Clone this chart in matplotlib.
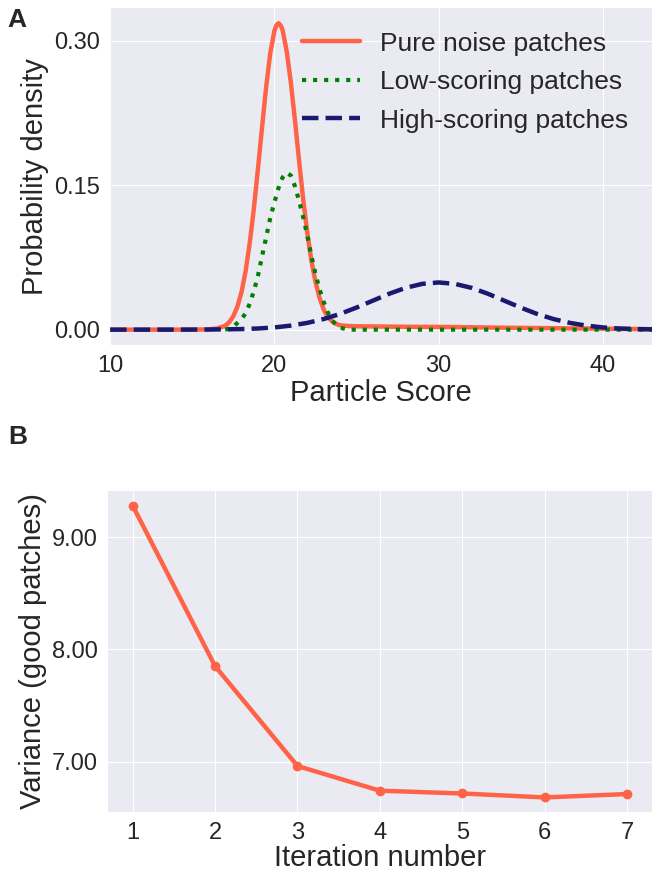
import matplotlib
matplotlib.use("Agg")
import matplotlib.pyplot as plt

# panel A: densities
noise_x = [10, 12, 14, 15, 16, 16.5, 17, 17.25, 17.5, 17.75, 18, 18.25, 18.5, 18.75,
           19, 19.25, 19.5, 19.75, 20, 20.125, 20.25, 20.375, 20.5, 20.75, 21,
           21.25, 21.5, 21.75, 22, 22.25, 22.5, 22.75, 23, 23.25, 23.5, 23.75,
           24, 24.5, 25, 28, 31, 34, 37, 40, 43]
noise_y = [0, 0, 0, 0, 0.0003, 0.0012, 0.004, 0.0077, 0.014, 0.024, 0.039, 0.061,
           0.090, 0.1255, 0.167, 0.210, 0.252, 0.287, 0.310, 0.316, 0.318, 0.316,
           0.311, 0.289, 0.257, 0.218, 0.176, 0.136, 0.101, 0.072, 0.050, 0.033,
           0.021, 0.013, 0.009, 0.006, 0.0045, 0.0038, 0.0035, 0.003, 0.0027,
           0.002, 0.0015, 0.001, 0.0005]

low_x = [17, 17.25, 17.5, 17.75, 18, 18.25, 18.5, 18.75, 19, 19.25, 19.5, 19.75,
         20, 20.25, 20.5, 20.75, 21, 21.25, 21.5, 21.75, 22, 22.25, 22.5, 22.75,
         23, 23.25, 23.5, 23.75, 24, 24.5, 30, 43]
low_y = [0, 0.001, 0.003, 0.007, 0.011, 0.017, 0.027, 0.040, 0.056, 0.076, 0.096,
         0.116, 0.132, 0.147, 0.158, 0.163, 0.160, 0.149, 0.134, 0.117, 0.098,
         0.077, 0.058, 0.042, 0.029, 0.018, 0.010, 0.005, 0.002, 0, 0, 0]

high_x = [10, 12, 14, 16, 17, 18, 19, 20, 21, 22, 23, 24, 25, 26, 27, 28, 29, 30,
          31, 32, 33, 34, 35, 36, 37, 38, 39, 40, 41, 42, 43]
high_y = [0, 0, 0.00002, 0.00012, 0.0003, 0.0006, 0.0012, 0.0023, 0.0042, 0.0070,
          0.0110, 0.0163, 0.0229, 0.0301, 0.0373, 0.0434, 0.0475, 0.049, 0.0475,
          0.0434, 0.0373, 0.0301, 0.0229, 0.0163, 0.0110, 0.0070, 0.0042, 0.0023,
          0.0012, 0.0006, 0.0003]

labels = ["Pure noise patches", "Low-scoring patches", "High-scoring patches"]

# panel B
iterations = [1, 2, 3, 4, 5, 6, 7]
variance = [9.28, 7.85, 6.96, 6.74, 6.715, 6.68, 6.71]

plt.style.use("seaborn-v0_8-darkgrid")
plt.rcParams["font.family"] = ["Liberation Sans", "DejaVu Sans"]
plt.rcParams["text.color"] = "#262626"
plt.rcParams["axes.labelcolor"] = "#262626"
plt.rcParams["xtick.color"] = "#262626"
plt.rcParams["ytick.color"] = "#262626"

fig = plt.figure(figsize=(6.52, 8.72), dpi=100)

# ---- panel A
ax1 = fig.add_axes([0.169, 0.6044, 0.831, 0.3865])
ax1.plot(noise_x, noise_y, color="tomato", lw=3.2, label=labels[0])
ax1.plot(low_x, low_y, color="green", lw=3, ls=":", label=labels[1])
ax1.plot(high_x, high_y, color="midnightblue", lw=3.2, ls="--", label=labels[2])
ax1.set_xlim(10, 43)
ax1.set_xticks([10, 20, 30, 40])
ax1.set_yticks([0.0, 0.15, 0.30])
ax1.set_yticklabels(["0.00", "0.15", "0.30"])
ax1.tick_params(labelsize=17, pad=7)
ax1.set_xlabel("Particle Score", fontsize=21, labelpad=2)
ax1.set_ylabel("Probability density", fontsize=21)
ax1.legend(loc="upper right", bbox_to_anchor=(1.0, 1.0), frameon=False,
           fontsize=19, handlelength=2.2, handletextpad=0.75, labelspacing=0.55)
fig.text(0.012, 0.977, "A", fontsize=19, fontweight="bold", va="center")

# ---- panel B
ax2 = fig.add_axes([0.1656, 0.0688, 0.834, 0.368])
ax2.plot(iterations, variance, color="tomato", lw=3.2, marker="o", markersize=6)
ax2.set_xticks(iterations)
ax2.set_yticks([7.0, 8.0, 9.0])
ax2.set_yticklabels(["7.00", "8.00", "9.00"])
ax2.tick_params(labelsize=17, pad=7)
ax2.set_xlabel("Iteration number", fontsize=21, labelpad=0.5)
ax2.set_ylabel("Variance (good patches)", fontsize=21)
fig.text(0.012, 0.499, "B", fontsize=19, fontweight="bold", va="center")

fig.savefig("out.png", dpi=100)
